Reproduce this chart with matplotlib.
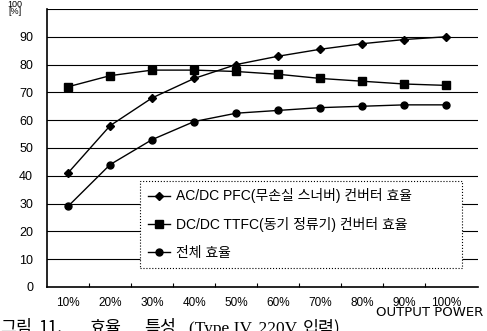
import numpy as np
import matplotlib.pyplot as plt

plt.rcParams['font.family'] = ['Liberation Sans', 'Noto Sans CJK KR', 'DejaVu Sans']

power = ['10%', '20%', '30%', '40%', '50%', '60%', '70%', '80%', '90%', '100%']
acdc_pfc = [41, 58, 68, 75, 80, 83, 85.5, 87.5, 89, 90]
dcdc_ttfc = [72, 76, 78, 78, 77.5, 76.5, 75, 74, 73, 72.5]
total = [29, 44, 53, 59.5, 62.5, 63.5, 64.5, 65, 65.5, 65.5]

labels = ['AC/DC PFC(무손실 스너버) 컨버터 효율',
          'DC/DC TTFC(동기 정류기) 컨버터 효율',
          '전체 효율']

caption_words = ['그림', '11.', '효율', '특성', '(Type IV, 220V', '입력)']
caption_x = [0.0, 0.080, 0.182, 0.296, 0.388, 0.622]

x = np.arange(1, len(power) + 1)

fig = plt.figure(figsize=(4.87, 3.31), dpi=100)
ax = fig.add_axes([0.0965, 0.133, 0.885, 0.840])

ax.plot(x, acdc_pfc, color='k', lw=1, marker='D', ms=4, label=labels[0])
ax.plot(x, dcdc_ttfc, color='k', lw=1, marker='s', ms=6, label=labels[1])
ax.plot(x, total, color='k', lw=1, marker='o', ms=5, label=labels[2])

ax.set_xlim(0.5, 10.75)
ax.set_ylim(0, 100)

ax.set_yticks(np.arange(0, 100, 10))
ax.set_yticklabels([str(v) for v in range(0, 100, 10)], fontsize=9)
for v in range(10, 101, 10):
    ax.axhline(v, color='k', lw=0.8, zorder=0)

ax.set_xticks(x)
ax.set_xticklabels(power, fontsize=8.5)
ax.set_xticks(x[:-1] + 0.5, minor=True)
ax.tick_params(axis='x', which='major', length=0, pad=7)
ax.tick_params(axis='x', which='minor', direction='in', length=3, width=0.8)
ax.tick_params(axis='y', length=0, pad=10)

ax.spines['top'].set_visible(False)
ax.spines['right'].set_visible(False)
for s in ['left', 'bottom']:
    ax.spines[s].set_linewidth(1.2)

# y unit label squeezed into the top-left corner
fig.text(0.031, 0.986, '100', ha='center', va='center', fontsize=6.5)
fig.text(0.031, 0.964, '[%]', ha='center', va='center', fontsize=6.5)

leg = ax.legend(loc='lower left', bbox_to_anchor=(0.216, 0.069, 0.747, 0.306),
                mode='expand', borderaxespad=0, fontsize=10, handlelength=1.6,
                handletextpad=0.4, labelspacing=1.0, borderpad=0.55,
                fancybox=False, framealpha=1, edgecolor='k')
leg.get_frame().set_linestyle(':')
leg.get_frame().set_linewidth(0.8)

fig.text(0.992, 0.0755, 'OUTPUT POWER', ha='right', va='top', fontsize=9.5,
         family='DejaVu Sans')

# figure caption, cut off by the bottom edge as in the scan
for word, cx in zip(caption_words, caption_x):
    fam = ['Liberation Serif', 'Noto Sans CJK KR'] if word.startswith('(') else \
        ['Noto Sans CJK KR', 'DejaVu Sans']
    fig.text(cx, -0.006, word, ha='left', va='baseline', fontsize=12.5, family=fam)

fig.savefig('out.png', dpi=100)
